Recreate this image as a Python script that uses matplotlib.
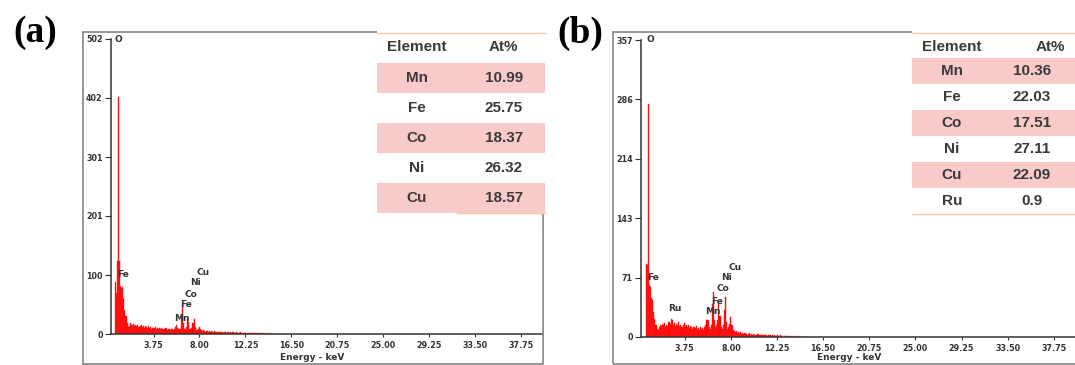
import matplotlib
matplotlib.use("Agg")
import matplotlib.pyplot as plt
from matplotlib.patches import Rectangle
from matplotlib.lines import Line2D

# 畫布大小 (像素)
W, H = 1075, 365

# ---- 資料 ----
# EDS 能譜：每 0.1 keV 一個通道 (0.1 ~ 15.0 keV)
counts_a = [
    0, 88, 70, 124, 403, 125, 82, 78, 80, 62,
    40, 30, 18, 12, 14, 18, 16, 15, 17, 14,
    16, 13, 15, 12, 14, 16, 12, 13, 11, 14,
    12, 10, 13, 11, 12, 9, 11, 10, 12, 9,
    10, 8, 11, 9, 10, 8, 9, 8, 10, 7,
    9, 8, 7, 9, 8, 7, 9, 12, 16, 10,
    8, 9, 30, 47, 18, 8, 9, 12, 26, 20,
    9, 8, 10, 18, 25, 12, 7, 6, 8, 12,
    9, 6, 5, 6, 5, 4, 5, 4, 5, 4,
    5, 3, 4, 5, 3, 4, 3, 4, 3, 4,
    3, 2, 3, 4, 2, 3, 3, 2, 3, 2,
    3, 2, 2, 3, 2, 1, 2, 3, 1, 2,
    2, 1, 2, 1, 2, 1, 1, 2, 1, 1,
    2, 1, 1, 0, 1, 1, 0, 1, 0, 1,
    0, 0, 1, 0, 0, 1, 0, 0, 0, 0,
]
counts_b = [
    0, 88, 86, 280, 62, 60, 47, 45, 30, 22,
    14, 10, 8, 12, 15, 13, 16, 14, 17, 12,
    15, 13, 18, 16, 22, 20, 15, 17, 13, 16,
    14, 18, 13, 15, 12, 14, 17, 13, 15, 12,
    14, 11, 13, 12, 10, 12, 11, 13, 10, 11,
    9, 12, 10, 11, 9, 12, 14, 20, 21, 12,
    10, 14, 40, 54, 20, 12, 14, 20, 41, 25,
    12, 10, 14, 32, 48, 18, 10, 12, 16, 24,
    14, 8, 7, 6, 7, 5, 6, 5, 6, 4,
    5, 4, 5, 4, 3, 4, 5, 3, 4, 3,
    4, 3, 2, 3, 4, 2, 3, 2, 3, 2,
    2, 3, 2, 1, 2, 2, 1, 2, 1, 2,
    1, 1, 2, 1, 1, 2, 1, 0, 1, 1,
    0, 1, 1, 0, 1, 0, 0, 1, 0, 0,
    0, 1, 0, 0, 0, 0, 0, 0, 0, 0,
]
energy = [0.1 * (i + 1) for i in range(len(counts_a))]

x_ticks = [3.75, 8.00, 12.25, 16.50, 20.75, 25.00, 29.25, 33.50, 37.75]
y_ticks_a = [0, 100, 201, 301, 402, 502]
y_ticks_b = [0, 71, 143, 214, 286, 357]

# 峰值標記 (元素, keV, counts)
peaks_a = [("O", 0.46, 502), ("Fe", 0.93, 102), ("Cu", 8.33, 105), ("Ni", 7.6, 87),
           ("Co", 7.2, 68), ("Fe", 6.76, 51), ("Mn", 6.4, 27)]
peaks_b = [("O", 0.55, 358), ("Fe", 0.83, 71), ("Ru", 2.86, 34), ("Cu", 8.39, 84),
           ("Ni", 7.56, 71), ("Co", 7.28, 58), ("Fe", 6.73, 43), ("Mn", 6.36, 31)]

# 右上角成分表
elements_a = ["Mn", "Fe", "Co", "Ni", "Cu"]
at_pct_a = ["10.99", "25.75", "18.37", "26.32", "18.57"]
elements_b = ["Mn", "Fe", "Co", "Ni", "Cu", "Ru"]
at_pct_b = ["10.36", "22.03", "17.51", "27.11", "22.09", "0.9"]


def fx(px):
    return px / W


def fy(py):
    return 1 - py / H


fig = plt.figure(figsize=(W / 100, H / 100), dpi=100)
fig.patch.set_facecolor("white")


# 灰色外框
def draw_frame(left, top, right, bottom):
    fig.patches.append(Rectangle((fx(left), fy(bottom)), fx(right) - fx(left), fy(top) - fy(bottom),
                                 transform=fig.transFigure, fill=False, edgecolor="#8c8c8c", lw=1.3))


# 能譜
def draw_spectrum(box, xlim, ylim, counts, yticks, peaks, xlabel_pos):
    left, top, right, bottom = box
    ax = fig.add_axes([fx(left), fy(bottom), fx(right) - fx(left), fy(top) - fy(bottom)])
    ax.bar(energy, counts, width=0.1, color="#ff0000", edgecolor="#ff2020", linewidth=0.3,
           align="center")
    ax.set_xlim(*xlim)
    ax.set_ylim(*ylim)
    ax.set_xticks(x_ticks)
    ax.set_xticklabels(["%.2f" % v for v in x_ticks])
    ax.set_yticks(yticks)
    for s in ["top", "right"]:
        ax.spines[s].set_visible(False)
    for s in ["left", "bottom"]:
        ax.spines[s].set_color("#333333")
        ax.spines[s].set_linewidth(1.1)
    ax.tick_params(axis="y", direction="out", length=4, width=0.8, pad=2,
                   labelsize=5.8, labelcolor="#333333", colors="#333333")
    ax.tick_params(axis="x", direction="out", length=2, width=0.8, pad=3,
                   labelsize=5.8, labelcolor="#333333", colors="#333333")
    for lbl in ax.get_xticklabels() + ax.get_yticklabels():
        lbl.set_fontweight("bold")
    ax.patch.set_alpha(0)
    for name, e, c in peaks:
        ax.text(e, c, name, ha="center", va="center", fontsize=6.5, fontweight="bold",
                color="#333333", clip_on=False)
    fig.text(fx(xlabel_pos[0]), fy(xlabel_pos[1]), "Energy - keV", ha="center", va="center",
             fontsize=6.5, fontweight="bold", color="#333333")
    return ax


# 成分表
def draw_table(x0, x1, header_y, row_top, row_h, elements, values, col1, col2, head2, bottom_x0):
    yb = row_top + row_h * len(elements)
    fig.patches.append(Rectangle((fx(x0), fy(yb + 1)), fx(x1) - fx(x0), fy(30) - fy(yb + 1),
                                 transform=fig.transFigure, facecolor="white", edgecolor="none", zorder=2))
    fig.lines.append(Line2D([fx(x0), fx(x1)], [fy(33), fy(33)], transform=fig.transFigure,
                            color="#f4c7a8", lw=1.0, zorder=3))
    txt = dict(ha="center", va="center", fontsize=11, fontweight="bold", color="#3a3a3a",
               family="Liberation Sans", zorder=4)
    fig.text(fx(col1), fy(header_y), "Element", **txt)
    fig.text(fx(head2), fy(header_y), "At%", **txt)
    for i, (el, v) in enumerate(zip(elements, values)):
        y0 = row_top + i * row_h
        if i % 2 == 0:
            fig.patches.append(Rectangle((fx(x0), fy(y0 + row_h)), fx(x1) - fx(x0), fy(y0) - fy(y0 + row_h),
                                         transform=fig.transFigure, facecolor="#f8caca",
                                         edgecolor="none", zorder=3))
        fig.text(fx(col1), fy(y0 + row_h / 2), el, **txt)
        fig.text(fx(col2), fy(y0 + row_h / 2), v, **txt)
    fig.lines.append(Line2D([fx(bottom_x0), fx(x1)], [fy(yb), fy(yb)], transform=fig.transFigure,
                            color="#f4c7a8", lw=1.0, zorder=3))


# (a)
draw_frame(83, 32, 543, 364)
draw_spectrum((111, 39, 543, 334), (-0.19, 39.8), (0, 502), counts_a, y_ticks_a, peaks_a, (312, 357))
draw_table(377, 545, 47, 63, 30, elements_a, at_pct_a, 417, 504, 503, 457)
fig.text(fx(35), fy(33), "(a)", ha="center", va="center", fontsize=27, fontweight="bold",
         family="Liberation Serif")

# (b)
draw_frame(613, 32, 1080, 364)
draw_spectrum((641, 40, 1075, 337), (-0.28, 39.7), (0, 357), counts_b, y_ticks_b, peaks_b, (849, 358))
draw_table(912, 1075, 47, 58, 26, elements_b, at_pct_b, 952, 1032, 1050, 912)
fig.text(fx(580), fy(33), "(b)", ha="center", va="center", fontsize=27, fontweight="bold",
         family="Liberation Serif")

fig.savefig("out.png", dpi=100)
